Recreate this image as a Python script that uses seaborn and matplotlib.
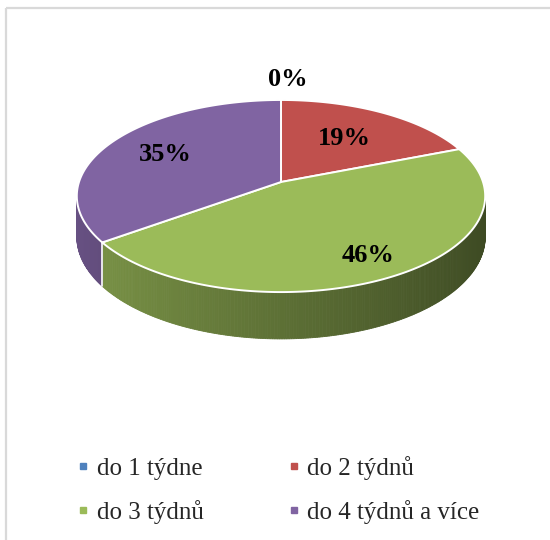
import numpy as np
import matplotlib
matplotlib.use("Agg")
import matplotlib.pyplot as plt
from matplotlib.patches import Polygon, Rectangle
from matplotlib.lines import Line2D
import seaborn as sns

# Data
categories = ["do 1 týdne", "do 2 týdnů", "do 3 týdnů", "do 4 týdnů a více"]
shares = [0, 19, 46, 35]
value_labels = ["0%", "19%", "46%", "35%"]
palette_hex = ["#4f81bd", "#c0504d", "#9bbb59", "#8064a2"]

# Layout (pixels)
W, H = 550, 540
CX, CY = 281, 182          # centre of the top face
RX, RY = 202, 94           # half-axes of the top face
K = 0.146                  # perspective strength
DEPTH = 40                 # thickness of the disc
LABEL_R = [1.29, 0.60, 0.80, 0.67]
LABEL_DX = [7, 0, 0, 0]

sns.set_theme(style="white")
plt.rcParams["font.family"] = ["Liberation Serif", "DejaVu Serif"]
colors = sns.color_palette(palette_hex)

fig = plt.figure(figsize=(W / 100, H / 100), dpi=100)
fig.patch.set_facecolor("white")
ax = fig.add_axes([0, 0, 1, 1])
ax.set_xlim(0, W)
ax.set_ylim(H, 0)
ax.axis("off")


def project(theta, r=1.0):
    x = r * np.cos(theta)
    y = r * np.sin(theta)
    s = 1.0 / (1.0 + K * y)
    return CX + RX * x * s, CY - RY * y * s, s


fractions = np.asarray(shares, dtype=float) / np.sum(shares)
cum = np.concatenate([[0.0], np.cumsum(fractions)])
theta_edges = np.pi / 2 - 2 * np.pi * cum      # clockwise from 12 o'clock

# Front side walls with a left-to-right shading
vis_lo, vis_hi = -np.pi + np.arcsin(K), -np.arcsin(K)
for i, c in enumerate(colors):
    t0, t1 = theta_edges[i], theta_edges[i + 1]
    for off in (0.0, -2 * np.pi, 2 * np.pi):
        lo = max(t1, vis_lo + off)
        hi = min(t0, vis_hi + off)
        if hi <= lo:
            continue
        ts = np.linspace(hi, lo, max(2, int((hi - lo) / 0.01)))
        for a, b in zip(ts[:-1], ts[1:]):
            xa, ya, sa = project(a)
            xb, yb, sb = project(b)
            shade = 0.60 - 0.21 * np.cos((a + b) / 2)
            col = np.clip(np.array(c) * shade, 0, 1)
            quad = [(xa, ya), (xb, yb), (xb, yb + DEPTH * sb), (xa, ya + DEPTH * sa)]
            ax.add_patch(Polygon(quad, closed=True, fc=col, ec=col, lw=0.6, zorder=1))

# Seams between side walls
for t in theta_edges[1:-1]:
    tt = (t + np.pi) % (2 * np.pi) - np.pi
    if vis_lo < tt < vis_hi:
        x, y, s = project(tt)
        ax.plot([x, x], [y, y + DEPTH * s], color="white", lw=1.2, zorder=2)

# Top face
for i, c in enumerate(colors):
    if fractions[i] <= 0:
        continue
    t0, t1 = theta_edges[i], theta_edges[i + 1]
    ts = np.linspace(t0, t1, max(3, int((t0 - t1) / 0.005)))
    xs, ys, _ = project(ts)
    pts = [(CX, CY)] + list(zip(xs, ys))
    ax.add_patch(Polygon(pts, closed=True, fc=c, ec="white", lw=1.4,
                         joinstyle="round", zorder=3))

# Value labels
for i, lab in enumerate(value_labels):
    tm = (theta_edges[i] + theta_edges[i + 1]) / 2
    x, y, _ = project(tm, LABEL_R[i])
    ax.text(x + LABEL_DX[i], y, lab, ha="center", va="center",
            fontsize=19, fontweight="bold", color="black", zorder=5)

# Chart border
ax.add_patch(Rectangle((6, 8), 700, 700, fill=False, ec="#d9d9d9", lw=1.6,
                       clip_on=False, zorder=6))

# Legend, filled row by row
handles = [Line2D([], [], marker="s", ls="", color=c, markersize=5) for c in colors]
order = [0, 2, 1, 3]
fig.legend([handles[j] for j in order], [categories[j] for j in order],
           ncol=2, loc="upper left", bbox_to_anchor=(78 / W, 1 - 456 / H),
           frameon=False, fontsize=18, handlelength=0.4, handletextpad=0.35,
           columnspacing=3.4, labelspacing=0.8, borderpad=0, borderaxespad=0)

fig.savefig("out.png", dpi=100)
